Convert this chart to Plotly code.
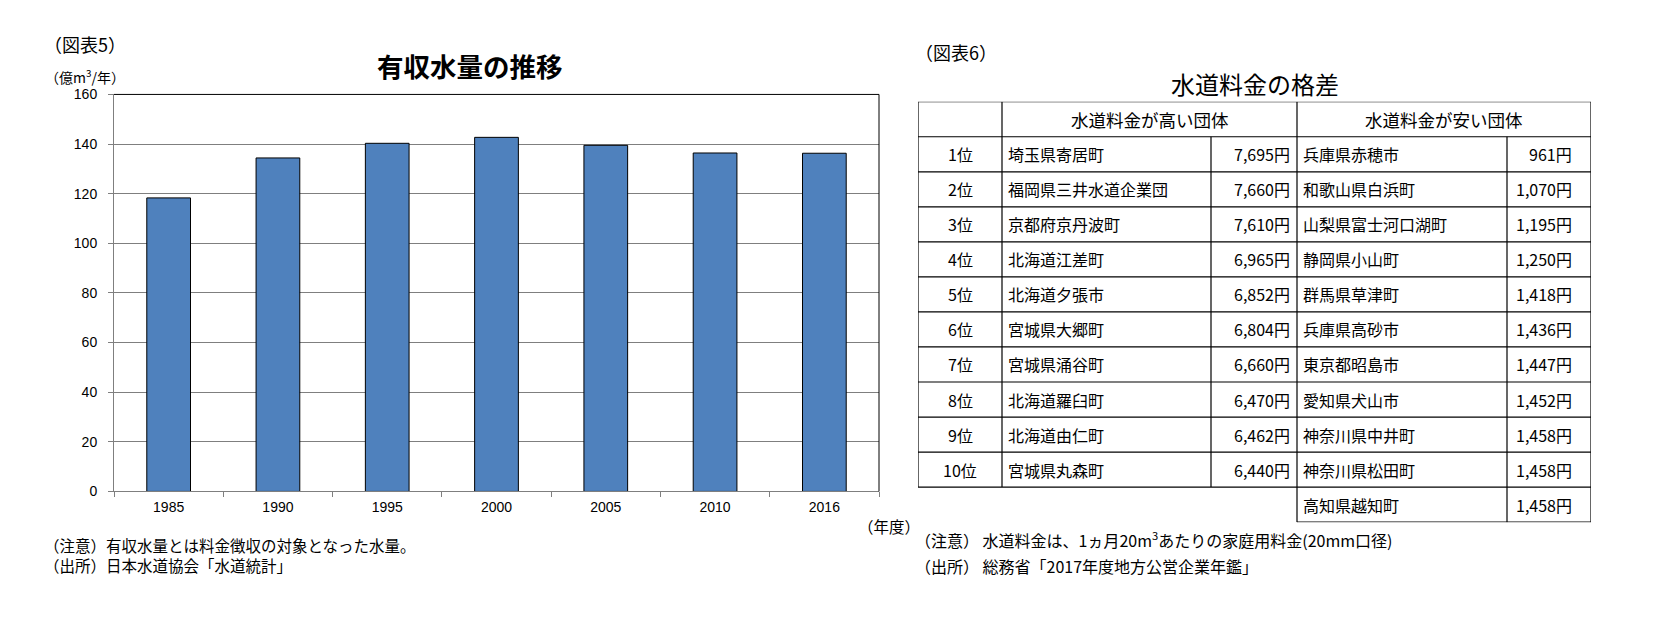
import plotly.graph_objects as go

# 有収水量（億m3/年）
years = ["1985", "1990", "1995", "2000", "2005", "2010", "2016"]
revenue_water = [118.3, 134.4, 140.3, 142.7, 139.5, 136.4, 136.3]

# 水道料金の格差
ranks = ["1位", "2位", "3位", "4位", "5位", "6位", "7位", "8位", "9位", "10位"]
high_names = ["埼玉県寄居町", "福岡県三井水道企業団", "京都府京丹波町", "北海道江差町", "北海道夕張市",
              "宮城県大郷町", "宮城県涌谷町", "北海道羅臼町", "北海道由仁町", "宮城県丸森町"]
high_fees = [7695, 7660, 7610, 6965, 6852, 6804, 6660, 6470, 6462, 6440]
low_names = ["兵庫県赤穂市", "和歌山県白浜町", "山梨県富士河口湖町", "静岡県小山町", "群馬県草津町",
             "兵庫県高砂市", "東京都昭島市", "愛知県犬山市", "神奈川県中井町", "神奈川県松田町", "高知県越知町"]
low_fees = [961, 1070, 1195, 1250, 1418, 1436, 1447, 1452, 1458, 1458, 1458]
headers = ["水道料金が高い団体", "水道料金が安い団体"]

JP = "Noto Sans CJK JP"
W, H = 1656, 622
GRAY = "#7f7f7f"
# the page body has an 8px margin, so pull everything back by that much
OX, OY = -8, -8


def px(x):
    return (x + OX) / W


def py(y):
    return 1 - (y + OY) / H


# column edges of the table (in table-axis units)
edges = [0, 84, 293, 379, 589, 673]
n_high = len(high_names)
n_rows = 1 + max(len(high_names), len(low_names))

fig = go.Figure()

fig.add_trace(go.Bar(x=years, y=revenue_water,
                     marker=dict(color="#4F81BD", line=dict(color="black", width=1)),
                     showlegend=False, hoverinfo="x+y"))

# invisible trace so the table axes exist
fig.add_trace(go.Scatter(x=[0], y=[0], xaxis="x2", yaxis="y2", mode="markers",
                         marker=dict(opacity=0), showlegend=False, hoverinfo="skip"))

shapes = []
# plot frame (top/right black like Excel)
shapes.append(dict(type="line", xref="x domain", yref="y domain", x0=0, x1=1, y0=1, y1=1,
                   line=dict(color="black", width=1)))
shapes.append(dict(type="line", xref="x domain", yref="y domain", x0=1, x1=1, y0=0, y1=1,
                   line=dict(color="black", width=1)))


def tline(x0, y0, x1, y1):
    shapes.append(dict(type="line", xref="x2", yref="y2", x0=x0, y0=y0, x1=x1, y1=y1,
                       line=dict(color="black", width=1.2)))


for r in range(0, n_high + 2):
    tline(edges[0], r, edges[-1], r)
tline(edges[3], n_rows, edges[-1], n_rows)
tline(edges[0], 0, edges[0], n_high + 1)
tline(edges[1], 0, edges[1], n_high + 1)
tline(edges[2], 1, edges[2], n_high + 1)
tline(edges[3], 0, edges[3], n_rows)
tline(edges[4], 1, edges[4], n_rows)
tline(edges[5], 0, edges[5], n_rows)

annotations = []


def cell(text, x, y, anchor, size=16):
    annotations.append(dict(text=text, x=x, y=y, xref="x2", yref="y2", xanchor=anchor,
                            yanchor="middle", showarrow=False, font=dict(family=JP, size=size, color="black")))


cell(headers[0], (edges[1] + edges[3]) / 2, 0.5, "center", 17.5)
cell(headers[1], (edges[3] + edges[5]) / 2, 0.5, "center", 17.5)
for i, rk in enumerate(ranks):
    cell(rk, (edges[0] + edges[1]) / 2, i + 1.5, "center")
for i, (nm, fee) in enumerate(zip(high_names, high_fees)):
    cell(nm, edges[1] + 4, i + 1.5, "left")
    cell(f"{fee:,}円", edges[3] - 5, i + 1.5, "right")
for i, (nm, fee) in enumerate(zip(low_names, low_fees)):
    cell(nm, edges[3] + 4, i + 1.5, "left")
    cell(f"{fee:,}円", edges[5] - 17, i + 1.5, "right")


def label(text, x, y, anchor="left", size=15.5):
    annotations.append(dict(text=text, x=px(x), y=py(y), xref="paper", yref="paper", xanchor=anchor,
                            yanchor="middle", showarrow=False, font=dict(family=JP, size=size, color="black")))


label("（図表5）", 42, 37, size=18)
label("<b>有収水量の推移</b>", 470, 59, "center", 26.5)
label("（億m<sup>3</sup>/年）", 43, 70, size=14)
label("（年度）", 889, 531, "center", 15.5)
label("（注意）有収水量とは料金徴収の対象となった水量。", 42, 551)
label("（出所）日本水道協会「水道統計」", 42, 572)
label("（図表6）", 913, 45, size=18)
label("水道料金の格差", 1255, 77.5, "center", 24)
label("（注意） 水道料金は、1ヵ月20m<sup>3</sup>あたりの家庭用料金(20mm口径)", 913, 545, size=16)
label("（出所） 総務省「2017年度地方公営企業年鑑」", 913, 573, size=16)

fig.update_layout(
    width=W, height=H,
    margin=dict(l=0, r=0, t=0, b=0),
    paper_bgcolor="white", plot_bgcolor="white",
    font=dict(family=JP, size=14, color="black"),
    bargap=0.6,
    xaxis=dict(domain=[px(114), px(879)], type="category", tickson="boundaries",
               ticks="outside", ticklen=5, tickcolor=GRAY, showline=True, linecolor=GRAY,
               showgrid=False, tickfont=dict(family="Liberation Sans", size=14), ticklabelstandoff=3),
    yaxis=dict(domain=[py(496), py(88.5)], range=[0, 160], dtick=20, ticks="outside", ticklen=5,
               tickcolor=GRAY, showline=True, linecolor=GRAY, gridcolor=GRAY, zeroline=False,
               tickfont=dict(family="Liberation Sans", size=14), ticklabelstandoff=8),
    xaxis2=dict(domain=[px(918), px(1591)], range=[0, edges[-1]], visible=False, anchor="y2",
                fixedrange=True),
    yaxis2=dict(domain=[py(527.5), py(96)], range=[n_rows, 0], visible=False, anchor="x2",
                fixedrange=True),
    shapes=shapes,
    annotations=annotations,
)

fig.write_html("out.html")
